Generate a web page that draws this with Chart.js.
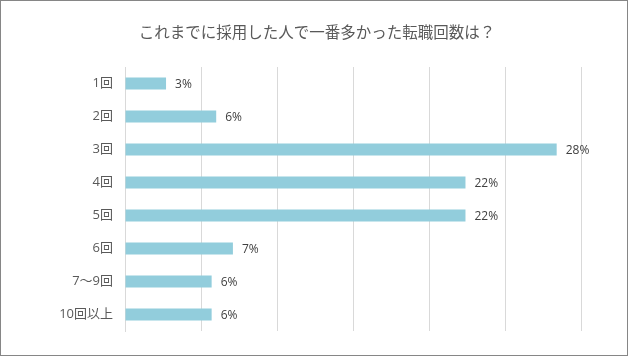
<!DOCTYPE html>
<html><head><meta charset="utf-8">
<script src="https://cdn.jsdelivr.net/npm/chart.js@4"></script>
<style>
html,body{margin:0;padding:0;background:#fff;}
#wrap{width:626px;height:354px;border:1px solid #868686;}
canvas{display:block;}
</style></head>
<body><div id="wrap"><canvas id="c" width="626" height="354"></canvas></div>
<script>
const titleText = 'これまでに採用した人で一番多かった転職回数は？';
const categories = ['1回','2回','3回','4回','5回','6回','7〜9回','10回以上'];
const values = [2.7, 6.0, 28.4, 22.4, 22.4, 7.1, 5.7, 5.7];
const axisMin = 0, axisMax = 30, axisStep = 5;

const FONT = '"Open Sans","Noto Sans CJK JP",sans-serif';

const labelPlugin = {
  id: 'barLabels',
  afterDatasetsDraw(chart) {
    const ctx = chart.ctx;
    const meta = chart.getDatasetMeta(0);
    ctx.save();
    ctx.font = '12px ' + FONT;
    ctx.fillStyle = '#404040';
    ctx.textAlign = 'left';
    ctx.textBaseline = 'middle';
    meta.data.forEach((bar, i) => {
      ctx.fillText(Math.round(values[i]) + '%', bar.x + 9, bar.y + 1);
    });
    ctx.restore();
  }
};

const titlePlugin = {
  id: 'centerTitle',
  afterDraw(chart) {
    const ctx = chart.ctx;
    ctx.save();
    ctx.font = '15.5px "Noto Sans CJK JP",sans-serif';
    ctx.fillStyle = '#595959';
    ctx.textAlign = 'center';
    ctx.textBaseline = 'middle';
    ctx.fillText(titleText, chart.width / 2 + 3, 31);
    ctx.restore();
  }
};

new Chart(document.getElementById('c'), {
  type: 'bar',
  data: {
    labels: categories,
    datasets: [{
      data: values,
      backgroundColor: '#92CDDC',
      borderWidth: 0,
      barPercentage: 0.72,
      categoryPercentage: 0.5
    }]
  },
  options: {
    indexAxis: 'y',
    responsive: false,
    animation: false,
    layout: { padding: { left: 0, right: 46, top: 66, bottom: 24 } },
    plugins: {
      legend: { display: false },
      tooltip: { enabled: false },
      title: { display: false }
    },
    scales: {
      x: {
        min: axisMin, max: axisMax,
        ticks: { display: false, stepSize: axisStep },
        grid: { color: '#d9d9d9', drawTicks: false, lineWidth: 1 },
        border: { display: false }
      },
      y: {
        ticks: { color: '#595959', font: { family: FONT, size: 13 }, padding: 12 },
        grid: { display: false, drawTicks: false },
        border: { display: true, color: '#d9d9d9' },
        afterFit(scale) { scale.width = 124; }
      }
    }
  },
  plugins: [labelPlugin, titlePlugin]
});
</script>
</body></html>
